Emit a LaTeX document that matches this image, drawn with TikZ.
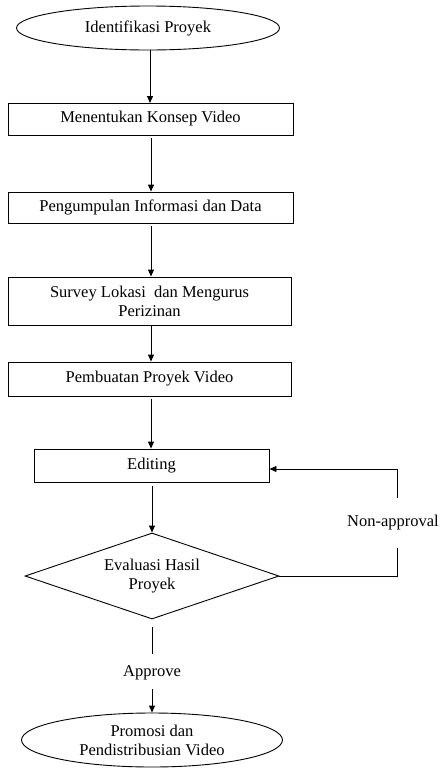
\documentclass[tikz,border=0pt]{standalone}
\usepackage{fontspec}
\setmainfont{Liberation Serif}
\usetikzlibrary{shapes.geometric,arrows.meta}
\begin{document}
\begin{tikzpicture}[x=1pt,y=-1pt,
  every node/.style={font=\fontsize{16.5}{19}\selectfont, inner sep=0pt},
  conn/.style={draw, line width=0.9pt},
  arr/.style={conn, -{Triangle[length=7pt,width=6pt]}},
  procbox/.style={draw, line width=0.9pt, rectangle, minimum height=#1, align=center},
  terminal/.style={draw, line width=0.9pt, ellipse, align=center},
  decision/.style={draw, line width=0.9pt, diamond, aspect=2.95, align=center}]
\useasboundingbox (0,0) rectangle (441,769);
\node[terminal, minimum width=263pt, minimum height=44pt] (start) at (148,28) {Identifikasi Proyek};
\node[procbox=32pt, minimum width=285pt] (b1) at (150.5,119) {Menentukan Konsep Video};
\node[procbox=31pt, minimum width=285pt] (b2) at (150.5,207.5) {Pengumpulan Informasi dan Data};
\node[procbox=48pt, minimum width=283pt] (b3) at (149.5,301) {Survey Lokasi \ dan Mengurus\\Perizinan};
\node[procbox=34pt, minimum width=283pt] (b4) at (149.5,379) {Pembuatan Proyek Video};
\node[procbox=33pt, minimum width=235pt] (edit) at (151.5,465.5) {Editing};
\node[decision, minimum width=254pt, minimum height=86pt] (eval) at (152,576) {Evaluasi Hasil\\Proyek};
\node (appr) at (152,673) {Approve};
\node[terminal, minimum width=261pt, minimum height=54pt] (end) at (152,740) {Promosi dan\\Pendistribusian Video};
\node (nonap) at (393,523) {Non-approval};
\coordinate (c1) at (397,576);
\coordinate (c2) at (397,469);

\draw[arr] (150,50) -- (150,103);
\draw[arr, shorten <=3pt] (b1.south -| 151,0) -- (b2.north -| 151,0);
\draw[arr, shorten <=3pt] (b2.south -| 151,0) -- (b3.north -| 151,0);
\draw[arr] (b3.south -| 151,0) -- (b4.north -| 151,0);
\draw[arr, shorten <=3pt] (b4.south -| 151,0) -- (edit.north -| 151,0);
\draw[arr, shorten <=4pt] (edit.south -| 152,0) -- (eval.north);
\draw[conn, shorten <=8pt, shorten >=12pt] (eval.south) -- (appr.north);
\draw[arr, shorten <=9pt] (appr.south) -- (end.north);
\draw[conn] (eval.east) -- (c1) -- (c1 |- 0,548);
\draw[arr] (c1 |- 0,498) -- (c2) -- (edit.east |- c2);
\end{tikzpicture}
\end{document}
